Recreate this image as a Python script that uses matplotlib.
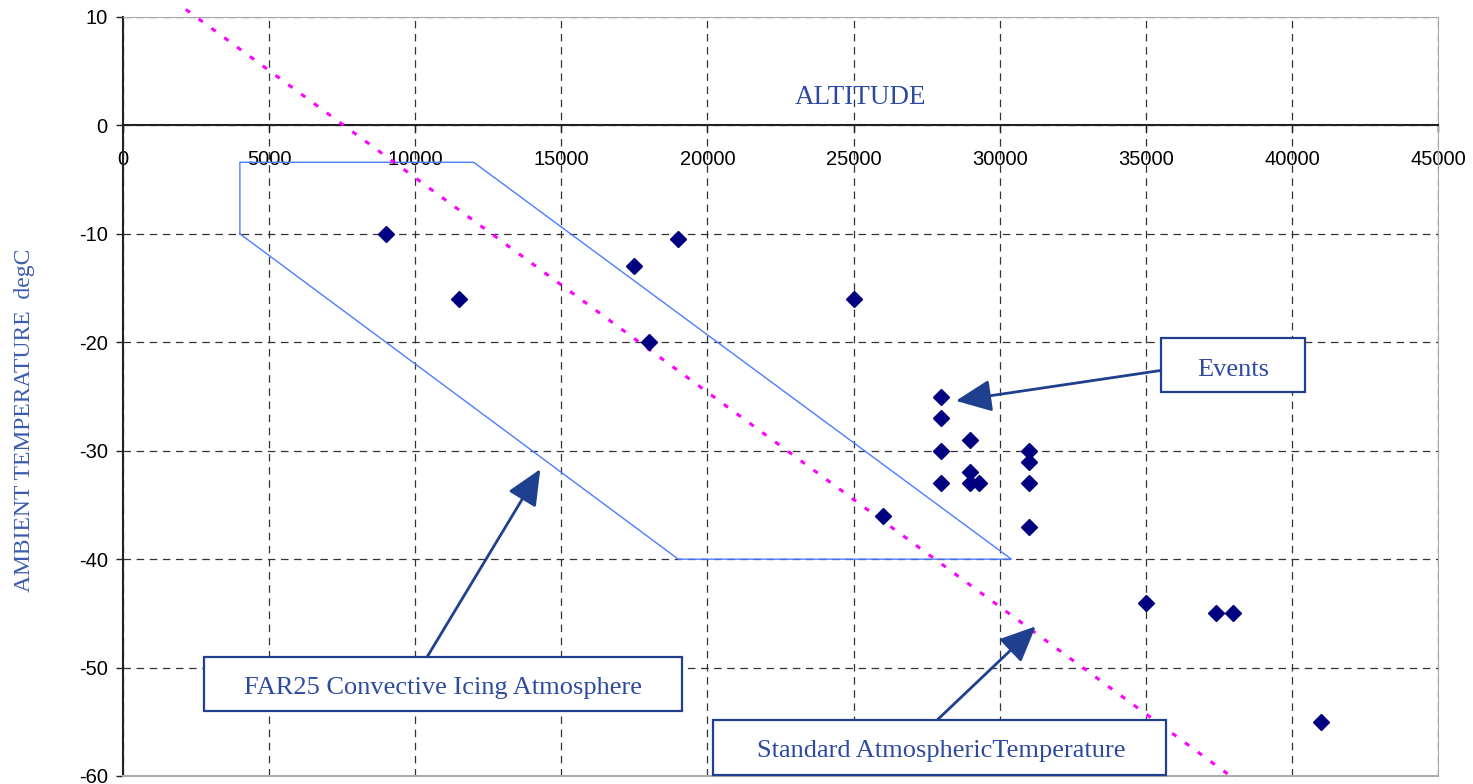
import matplotlib
matplotlib.use("Agg")
import matplotlib.pyplot as plt
from matplotlib.patches import Rectangle

# ---------------- data ----------------
event_alt = [9000, 11500, 17500, 18000, 19000, 25000, 26000,
             28000, 28000, 28000, 28000,
             29000, 29000, 29000, 29300,
             31000, 31000, 31000, 31000,
             35000, 37400, 38000, 41000]
event_temp = [-10, -16, -13, -20, -10.5, -16, -36,
              -25, -27, -30, -33,
              -29, -32, -33, -33,
              -30, -31, -33, -37,
              -44, -45, -45, -55]

std_alt = [2150, 38100]
std_temp = [10.7, -60.4]

icing_alt = [4000, 4000, 12000, 30400, 19000, 4000]
icing_temp = [-10, -3.4, -3.4, -40, -40, -10]

x_ticks = [0, 5000, 10000, 15000, 20000, 25000, 30000, 35000, 40000, 45000]
y_ticks = [10, 0, -10, -20, -30, -40, -50, -60]

# ---------------- style ----------------
SERIF = ["Liberation Serif", "DejaVu Serif"]
SANS = ["Liberation Sans", "DejaVu Sans"]
ANN = "#1f3f8f"
TXT = "#2e4a9e"
plt.rcParams["font.family"] = SANS

fig = plt.figure(figsize=(14.73, 7.84), dpi=100)
ax = fig.add_axes([123 / 1473, 1 - 776 / 784, (1438 - 123) / 1473, (776 - 17) / 784])

ax.spines["bottom"].set_position(("data", 0))
ax.spines["bottom"].set_color("#222222")
ax.spines["left"].set_color("#222222")
ax.spines["left"].set_linewidth(1.5)
ax.spines["bottom"].set_linewidth(1.5)
ax.spines["top"].set_color("#aaaaaa")
ax.spines["right"].set_color("#aaaaaa")

ax.set_xlim(0, 45000)
ax.set_ylim(-60, 10)
ax.set_xticks(x_ticks)
ax.set_yticks(y_ticks)
ax.set_xticklabels([str(t) for t in x_ticks])
ax.set_yticklabels([str(t) for t in y_ticks])
ax.tick_params(axis="both", direction="out", length=5, width=1, color="#222222",
               labelsize=14.5, labelcolor="black")
ax.tick_params(axis="x", pad=13)
ax.tick_params(axis="y", pad=6)

ax.grid(True, color="#333333", linestyle=(0, (6, 4.5)), linewidth=0.9)
ax.set_axisbelow(True)
ax.axhline(-60, color="#aaaaaa", lw=1.5, clip_on=False, zorder=5)

# icing envelope
ax.plot(icing_alt, icing_temp, color="#4d7cff", lw=1.0, zorder=3)
# standard atmosphere
ax.plot(std_alt, std_temp, color="#ff00ff", lw=2.2, linestyle=(0, (1.7, 3.5)),
        dash_capstyle="butt", clip_on=False, zorder=3)
# events
ax.plot(event_alt, event_temp, linestyle="none", marker="D", markersize=8.5,
        color="#000080", zorder=4)

ax.text(25240, 2.6, "ALTITUDE", fontfamily=SERIF, fontsize=19.5, color=TXT,
        ha="center", va="center")

fig.text(25 / 1473, 1 - 420 / 784, "AMBIENT TEMPERATURE  degC", rotation=90,
         fontfamily=SERIF, fontsize=17, color="#3b5bb0", ha="center", va="center")


def box(x0, y0, x1, y1, label, tx, ty):
    ax.add_patch(Rectangle((x0, y0), x1 - x0, y1 - y0, facecolor="white",
                           edgecolor=ANN, lw=1.6, zorder=6, clip_on=False))
    ax.text(tx, ty, label, fontfamily=SERIF, fontsize=19, color=TXT,
            ha="center", va="center", zorder=7)


def arrow(start, tip):
    ax.annotate("", xy=tip, xytext=start,
                arrowprops=dict(arrowstyle="-|>,head_length=1.0,head_width=0.45",
                                mutation_scale=22, lw=2, color=ANN,
                                shrinkA=0, shrinkB=0), zorder=6)


box(35514, -24.6, 40445, -19.6, "Events", 37980, -22.6)
arrow((35514, -22.6), (28500, -25.4))

box(2774, -54.0, 19144, -49.0, "FAR25 Convective Icing Atmosphere", 10960, -51.9)
arrow((10411, -49.0), (14281, -31.7))

box(20205, -59.9, 35685, -54.8, "Standard AtmosphericTemperature", 28000, -57.7)
arrow((27877, -54.8), (31233, -46.2))

fig.savefig("out.png", dpi=100)
